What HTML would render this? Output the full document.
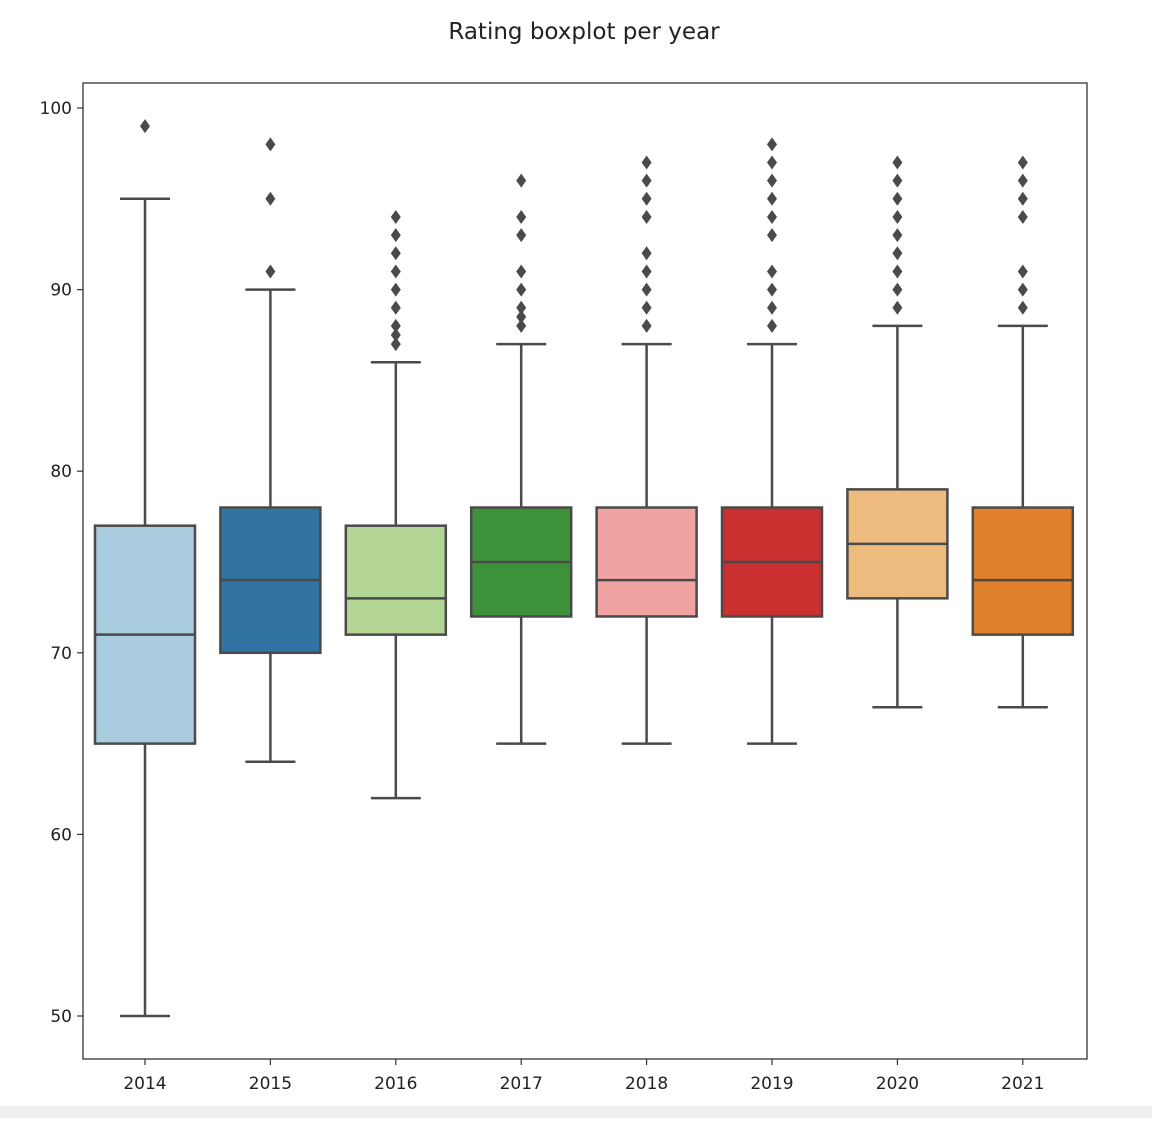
<!DOCTYPE html>
<html><head><meta charset="utf-8"><style>
body{margin:0;background:#fff;width:1152px;height:1118px;overflow:hidden;font-family:"DejaVu Sans","Liberation Sans",sans-serif}
</style></head><body>
<svg id="chart" width="1152" height="1118" xmlns="http://www.w3.org/2000/svg" font-family="DejaVu Sans, Liberation Sans, sans-serif">
<rect x="0" y="1106" width="1152" height="12" fill="#f0f0f0"/>
<text x="584" y="39" text-anchor="middle" font-size="23" fill="#222">Rating boxplot per year</text>
<g id="plot"></g>
<rect x="83" y="83" width="1004" height="976" fill="none" stroke="#333" stroke-width="1.3"/>
</svg>
<script>
const years=["2014","2015","2016","2017","2018","2019","2020","2021"];
const whiskLow=[50,64,62,65,65,65,67,67];
const q1=[65,70,71,72,72,72,73,71];
const median=[71,74,73,75,74,75,76,74];
const q3=[77,78,77,78,78,78,79,78];
const whiskHigh=[95,90,86,87,87,87,88,88];
const outliers=[[99],[91,95,98],[87,87.5,88,89,90,91,92,93,94],[88,88.5,89,90,91,93,94,96],[88,89,90,91,92,94,95,96,97],[88,89,90,91,93,94,95,96,97,98],[89,90,91,92,93,94,95,96,97],[89,90,91,94,95,96,97]];
const colors=["#a9cbde","#3274a1","#b3d595","#3d9138","#f0a3a3","#c9302f","#ecbb7d","#e1812c"];
const yTicks=[50,60,70,80,90,100];
const NS="http://www.w3.org/2000/svg";
const plot=document.getElementById('plot');
const y=v=>1016+(v-50)*(108-1016)/50;
const x=i=>145+i*125.4;
const bw=100, lc="#4a4a4a";
function mk(tag,attrs,parent){const e=document.createElementNS(NS,tag);for(const k in attrs)e.setAttribute(k,attrs[k]);(parent||plot).appendChild(e);return e;}
yTicks.forEach(t=>{
  const l=mk('line',{x1:77,x2:83,y1:y(t),y2:y(t),stroke:'#333','stroke-width':1.2});
  
  
  const tx=mk('text',{x:72,y:y(t)+6,'text-anchor':'end','font-size':17,fill:'#222'});
  tx.textContent=t;
  
  
});
years.forEach((yr,i)=>{
  const cx=x(i);
  const g=mk('g',{});
  
  
  mk('line',{x1:cx,x2:cx,y1:y(whiskLow[i]),y2:y(q1[i]),stroke:lc,'stroke-width':2.5},g);
  mk('line',{x1:cx,x2:cx,y1:y(q3[i]),y2:y(whiskHigh[i]),stroke:lc,'stroke-width':2.5},g);
  mk('line',{x1:cx-25,x2:cx+25,y1:y(whiskLow[i]),y2:y(whiskLow[i]),stroke:lc,'stroke-width':2.5},g);
  mk('line',{x1:cx-25,x2:cx+25,y1:y(whiskHigh[i]),y2:y(whiskHigh[i]),stroke:lc,'stroke-width':2.5},g);
  mk('rect',{x:cx-bw/2,y:y(q3[i]),width:bw,height:y(q1[i])-y(q3[i]),fill:colors[i],stroke:lc,'stroke-width':2.5},g);
  mk('line',{x1:cx-bw/2,x2:cx+bw/2,y1:y(median[i]),y2:y(median[i]),stroke:lc,'stroke-width':2.5},g);
  outliers[i].forEach(o=>{
    const d=mk('path',{d:`M${cx},${y(o)-7} L${cx+5},${y(o)} L${cx},${y(o)+7} L${cx-5},${y(o)} Z`,fill:lc},g);
    
    
  });
  const tk=mk('line',{x1:cx,x2:cx,y1:1059,y2:1065,stroke:'#333','stroke-width':1.2});
  
  
  const t=mk('text',{x:cx,y:1089,'text-anchor':'middle','font-size':17,fill:'#222'});
  t.textContent=yr;
  
  
});
</script>
</body></html>
